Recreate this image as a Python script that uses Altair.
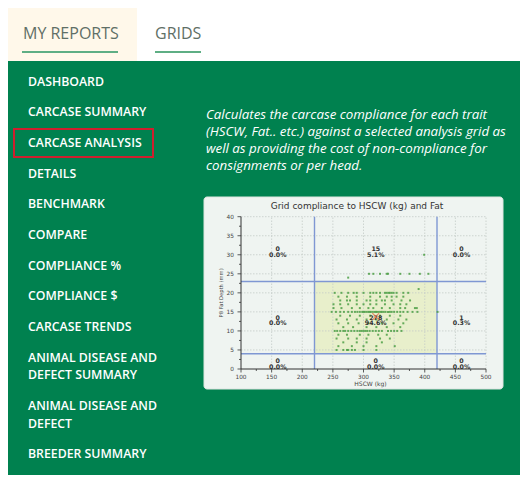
import altair as alt
import pandas as pd

# ---------------- texts ----------------
tab_labels = ["MY REPORTS", "GRIDS"]
menu_items = [
    "DASHBOARD", "CARCASE SUMMARY", "CARCASE ANALYSIS", "DETAILS", "BENCHMARK",
    "COMPARE", "COMPLIANCE %", "COMPLIANCE $", "CARCASE TRENDS",
    "ANIMAL DISEASE AND\nDEFECT SUMMARY", "ANIMAL DISEASE AND\nDEFECT", "BREEDER SUMMARY",
]
highlighted_item = "CARCASE ANALYSIS"
description_lines = [
    "Calculates the carcase compliance for each trait",
    "(HSCW, Fat.. etc.) against a selected analysis grid as",
    "well as providing the cost of non-compliance for",
    "consignments or per head.",
]
chart_title = "Grid compliance to HSCW (kg) and Fat"
x_title = "HSCW (kg)"
y_title = "P8 Fat Depth (mm)"

# ---------------- chart values ----------------
x_domain = [100, 500]
y_domain = [0, 40]
hscw_limits = [220, 420]
fat_limits = [4, 23]
x_major = [100, 150, 200, 250, 300, 350, 400, 450, 500]
x_minor = [125, 175, 225, 275, 325, 375, 425, 475]
y_major = [0, 5, 10, 15, 20, 25, 30, 35, 40]
y_minor = [2.5, 7.5, 12.5, 17.5, 22.5, 27.5, 32.5, 37.5]
x_grid = [150, 200, 250, 300, 350, 400, 450, 500]
y_grid = [5, 10, 15, 20, 25, 30, 35, 40]

# region counts (rows: above / within / below fat limits; cols: below / within / above HSCW)
counts_top = [0, 15, 0]
counts_mid = [0, 278, 1]
counts_bot = [0, 0, 0]
pct_top = ["0.0%", "5.1%", "0.0%"]
pct_mid = ["0.0%", "94.6%", "0.3%"]
pct_bot = ["0.0%", "0.0%", "0.0%"]

mean_hscw = [320]
mean_fat = [13.8]

hscw_fat30 = [399]
hscw_fat25 = [309, 316, 327, 338, 340, 360, 375, 392, 406]
hscw_fat24 = [275]
hscw_fat21 = [390]
hscw_fat20 = [253, 264, 275, 284, 289, 300, 311, 316, 321, 327, 335, 338, 341, 343, 346, 349, 354, 365, 373]
hscw_fat19 = [259, 273, 289, 311, 327, 338, 346, 354, 365]
hscw_fat18 = [262, 273, 278, 289, 305, 311, 321, 330, 335, 346, 362, 376]
hscw_fat17 = [251, 262, 275, 289, 300, 311, 321, 335, 349, 360, 370]
hscw_fat16 = [251, 264, 281, 294, 308, 316, 330, 343, 360, 368, 384, 387]
hscw_fat15 = [248, 255, 262, 268, 275, 281, 286, 290, 294, 298, 300, 302, 305, 308, 310, 312, 315,
              318, 320, 322, 325, 328, 330, 333, 336, 340, 343, 346, 350, 355, 360, 365, 372, 380, 388, 421]
hscw_fat14 = [262, 278, 294, 311, 327, 343, 360]
hscw_fat13 = [256, 273, 289, 305, 321, 338, 357, 370]
hscw_fat12 = [259, 275, 292, 308, 330, 349, 365]
hscw_fat11 = [267, 283, 305, 321, 338, 360]
hscw_fat10 = [253, 257, 262, 267, 270, 275, 280, 285, 290, 294, 297, 300, 303, 306, 310, 315, 320,
              325, 330, 340, 345, 350, 355, 362]
hscw_fat9 = [259, 273, 294, 308, 324, 338]
hscw_fat8 = [256, 275, 289, 305, 327, 343]
hscw_fat7 = [267, 289, 305, 330]
hscw_fat6 = [259, 281, 300, 321, 351]
hscw_fat5 = [256, 267, 273, 275, 281, 286, 300, 321]

rows = [
    (30, hscw_fat30), (25, hscw_fat25), (24, hscw_fat24), (21, hscw_fat21), (20, hscw_fat20),
    (19, hscw_fat19), (18, hscw_fat18), (17, hscw_fat17), (16, hscw_fat16), (15, hscw_fat15),
    (14, hscw_fat14), (13, hscw_fat13), (12, hscw_fat12), (11, hscw_fat11), (10, hscw_fat10),
    (9, hscw_fat9), (8, hscw_fat8), (7, hscw_fat7), (6, hscw_fat6), (5, hscw_fat5),
]
points = pd.DataFrame([{"hscw": h, "fat": f} for f, hs in rows for h in hs])

# ---------------- layout / style (pixels) ----------------
W, H = 512, 467
GREEN = "#00814f"
CREAM = "#fff8ea"
TAB_TEXT = "#5f6f66"
UNDERLINE = "#5eae84"
RED = "#cf1f2e"
BLUE = "#7f97d3"
PANEL = "#eff4f1"
SHADE = "#e8efcb"
DOT = "#4c9f45"
AXIS = "#333333"
CHART_FONT = "DejaVu Sans"

PLOT_X = [233, 478]
PLOT_Y = [361, 208.7]

one = pd.DataFrame({"k": [0]})


def box(x, y, x2, y2, **style):
    return alt.Chart(one).mark_rect(**style).encode(
        x=alt.value(x), x2=alt.value(x2), y=alt.value(y), y2=alt.value(y2))


def text_layer(df, **style):
    return alt.Chart(df).mark_text(**style).encode(
        x=alt.X("px:Q", scale=None, axis=None),
        y=alt.Y("py:Q", scale=None, axis=None),
        text="label:N",
    )


# page background pieces
green_panel = box(0, 53, W, H, color=GREEN)
cream_tab = box(0, 0, 129, 53, color=CREAM)
underline1 = box(14, 43, 110, 45, color=UNDERLINE)
underline2 = box(147, 43, 193, 45, color=UNDERLINE)

tabs_df = pd.DataFrame({"label": tab_labels, "px": [15, 147], "py": [26, 26]})
tabs = text_layer(tabs_df, align="left", baseline="middle", font="Open Sans",
                  fontSize=16, color=TAB_TEXT)

# menu: compute line positions like a stacked list
menu_rows = []
top = 58.15
pad, lh = 13.1, 17.6
hl_center = 0
for item in menu_items:
    lines = item.split("\n")
    for j, ln in enumerate(lines):
        cy = top + pad / 2 + lh / 2 + j * lh
        menu_rows.append({"label": ln, "px": 20, "py": cy})
        if item == highlighted_item:
            hl_center = cy
    top += pad + lh * len(lines)
menu = text_layer(pd.DataFrame(menu_rows), align="left", baseline="middle", font="Open Sans",
                  fontSize=12.3, fontWeight=600, color="#ffffff")
red_box = box(6, hl_center - 14, 145, hl_center + 14, fillOpacity=0,
              stroke=RED, strokeWidth=2)

desc_df = pd.DataFrame({"label": description_lines, "px": [198] * 4,
                        "py": [111.3, 128.1, 144.9, 161.7]})
desc = text_layer(desc_df, align="left", baseline="alphabetic", font="Open Sans",
                  fontSize=13.3, fontStyle="italic", color="#ffffff")

panel = box(196, 189, 495, 381, color=PANEL, stroke="#dde5e0", strokeWidth=1, cornerRadius=3)
title_df = pd.DataFrame({"label": [chart_title], "px": [349], "py": [197.5]})
title = text_layer(title_df, align="center", baseline="middle", font=CHART_FONT,
                   fontSize=9, color="#333333")

# ---------------- embedded scatter ----------------
xs = alt.Scale(domain=x_domain, range=PLOT_X, nice=False, zero=False)
ys = alt.Scale(domain=y_domain, range=PLOT_Y, nice=False, zero=False)


def X(f):
    return alt.X(f, scale=xs, axis=None)


def Y(f):
    return alt.Y(f, scale=ys, axis=None)


shade_df = pd.DataFrame({"x0": [hscw_limits[0]], "x1": [hscw_limits[1]],
                         "y0": [fat_limits[0]], "y1": [fat_limits[1]]})
shade = alt.Chart(shade_df).mark_rect(color=SHADE).encode(
    x=X("x0:Q"), x2="x1:Q", y=Y("y0:Q"), y2="y1:Q")

gx_df = pd.DataFrame({"g": x_grid, "lo": y_domain[0], "hi": y_domain[1]})
gx = alt.Chart(gx_df).mark_rule(color="#c4ccc8", strokeDash=[1.5, 1.5], strokeWidth=0.8).encode(
    x=X("g:Q"), y=Y("lo:Q"), y2="hi:Q")
gy_df = pd.DataFrame({"g": y_grid, "lo": x_domain[0], "hi": x_domain[1]})
gy = alt.Chart(gy_df).mark_rule(color="#c4ccc8", strokeDash=[1.5, 1.5], strokeWidth=0.8).encode(
    y=Y("g:Q"), x=X("lo:Q"), x2="hi:Q")

bv_df = pd.DataFrame({"v": hscw_limits, "lo": y_domain[0], "hi": y_domain[1]})
bv = alt.Chart(bv_df).mark_rule(color=BLUE, strokeWidth=1.4).encode(
    x=X("v:Q"), y=Y("lo:Q"), y2="hi:Q")
bh_df = pd.DataFrame({"v": fat_limits, "lo": x_domain[0], "hi": x_domain[1]})
bh = alt.Chart(bh_df).mark_rule(color=BLUE, strokeWidth=1.4).encode(
    y=Y("v:Q"), x=X("lo:Q"), x2="hi:Q")

# hand-drawn axes (lines, ticks, labels, titles) from the tick arrays
x_line = alt.Chart(pd.DataFrame({"lo": [x_domain[0]], "hi": [x_domain[1]], "y": [y_domain[0]]})).mark_rule(
    color=AXIS, strokeWidth=1).encode(x=X("lo:Q"), x2="hi:Q", y=Y("y:Q"))
y_line = alt.Chart(pd.DataFrame({"lo": [y_domain[0]], "hi": [y_domain[1]], "x": [x_domain[0]]})).mark_rule(
    color=AXIS, strokeWidth=1).encode(y=Y("lo:Q"), y2="hi:Q", x=X("x:Q"))

xt_major = alt.Chart(pd.DataFrame({"v": x_major, "b": y_domain[0]})).mark_rule(color=AXIS, strokeWidth=0.8).encode(
    x=X("v:Q"), y=Y("b:Q"), y2=alt.value(PLOT_Y[0] + 3.5))
xt_minor = alt.Chart(pd.DataFrame({"v": x_minor, "b": y_domain[0]})).mark_rule(color=AXIS, strokeWidth=0.8).encode(
    x=X("v:Q"), y=Y("b:Q"), y2=alt.value(PLOT_Y[0] + 2))
yt_major = alt.Chart(pd.DataFrame({"v": y_major, "b": x_domain[0]})).mark_rule(color=AXIS, strokeWidth=0.8).encode(
    y=Y("v:Q"), x=X("b:Q"), x2=alt.value(PLOT_X[0] - 3.5))
yt_minor = alt.Chart(pd.DataFrame({"v": y_minor, "b": x_domain[0]})).mark_rule(color=AXIS, strokeWidth=0.8).encode(
    y=Y("v:Q"), x=X("b:Q"), x2=alt.value(PLOT_X[0] - 2))

xl = alt.Chart(pd.DataFrame({"v": x_major, "b": y_domain[0]})).mark_text(
    font=CHART_FONT, fontSize=5.8, color="#444444", baseline="middle", dy=8).encode(
    x=X("v:Q"), y=Y("b:Q"), text=alt.Text("v:Q", format="d"))
yl = alt.Chart(pd.DataFrame({"v": y_major, "b": x_domain[0]})).mark_text(
    font=CHART_FONT, fontSize=5.8, color="#444444", baseline="middle", align="right", dx=-7).encode(
    x=X("b:Q"), y=Y("v:Q"), text=alt.Text("v:Q", format="d"))

x_mid = (x_domain[0] + x_domain[1]) / 2
y_mid = (y_domain[0] + y_domain[1]) / 2
xtitle = alt.Chart(pd.DataFrame({"x": [x_mid], "y": [y_domain[0]], "t": [x_title]})).mark_text(
    font=CHART_FONT, fontSize=6, color="#444444", baseline="middle", dx=7, dy=14.5).encode(
    x=X("x:Q"), y=Y("y:Q"), text="t:N")
ytitle = alt.Chart(pd.DataFrame({"y": [y_mid], "t": [y_title]})).mark_text(
    font=CHART_FONT, fontSize=5.2, color="#444444", baseline="middle", angle=270).encode(
    x=alt.value(PLOT_X[0] - 20.5), y=Y("y:Q"), text="t:N")

dots = alt.Chart(points).mark_square(size=4, color=DOT, opacity=0.85).encode(
    x=X("hscw:Q"), y=Y("fat:Q"))

xc = [(x_domain[0] + hscw_limits[0]) / 2, (hscw_limits[0] + hscw_limits[1]) / 2,
      (hscw_limits[1] + x_domain[1]) / 2]
yc = [(fat_limits[1] + y_domain[1]) / 2, (fat_limits[0] + fat_limits[1]) / 2,
      (y_domain[0] + fat_limits[0]) / 2]
lab_rows = []
for r, (cs, ps) in enumerate([(counts_top, pct_top), (counts_mid, pct_mid), (counts_bot, pct_bot)]):
    for c in range(3):
        lab_rows.append({"x": xc[c], "y": yc[r], "t": f"{cs[c]}\n{ps[c]}"})
labels = alt.Chart(pd.DataFrame(lab_rows)).mark_text(
    font=CHART_FONT, fontSize=6.3, fontWeight="bold", color="#333333",
    lineBreak="\n", lineHeight=5.8, baseline="middle").encode(
    x=X("x:Q"), y=Y("y:Q"), text="t:N")

mean_mark = alt.Chart(pd.DataFrame({"x": mean_hscw, "y": mean_fat})).mark_point(
    shape="M-1,-1L1,1M-1,1L1,-1", filled=False, color="#e8643c", strokeWidth=1.2, size=45).encode(
    x=X("x:Q"), y=Y("y:Q"))

chart = alt.layer(
    green_panel, cream_tab, underline1, underline2, tabs, menu, red_box, desc,
    panel, title, shade, gx, gy, bv, bh, dots,
    x_line, y_line, xt_major, xt_minor, yt_major, yt_minor, xl, yl, xtitle, ytitle,
    labels, mean_mark,
).properties(
    width=W, height=H, padding=0, autosize=alt.AutoSizeParams(type="none"),
).configure_view(stroke=None)

chart.save("out.html", embed_options={"renderer": "svg", "actions": False})
